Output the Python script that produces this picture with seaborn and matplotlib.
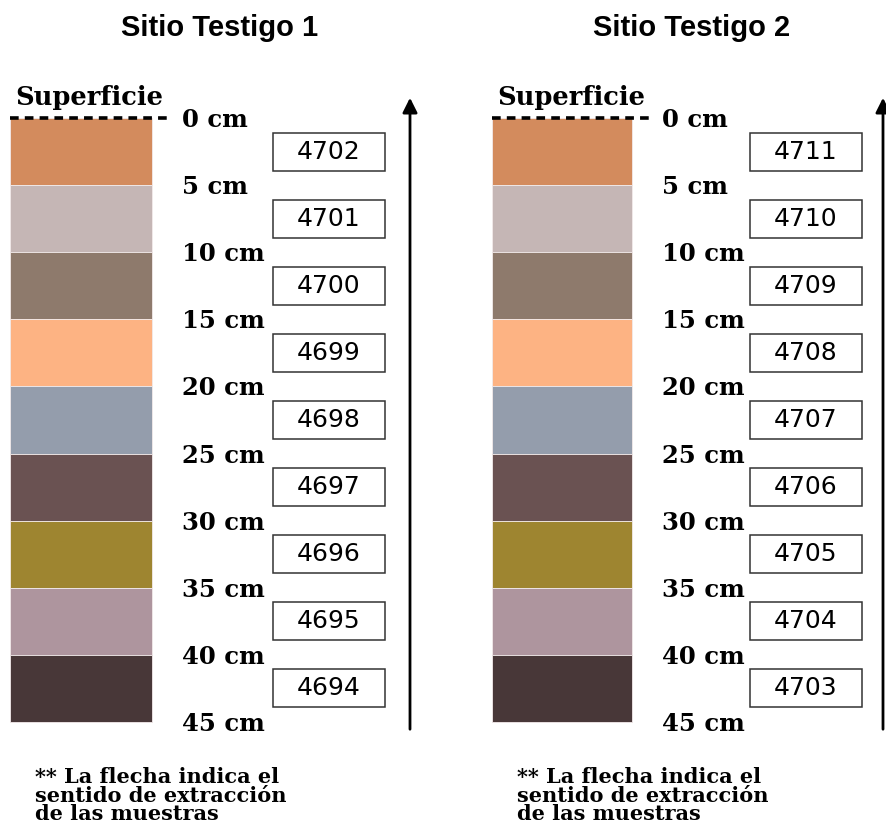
import matplotlib.pyplot as plt
import seaborn as sns
from matplotlib.patches import Rectangle

# Datos
SITES = ["Sitio Testigo 1", "Sitio Testigo 2"]
DEPTHS = [0, 5, 10, 15, 20, 25, 30, 35, 40, 45]          # cm
LAYER_COLORS = ["#D38B5D", "#C5B6B5", "#8E7A6C", "#FDB383", "#949DAC",
                "#6A5252", "#9E8530", "#AE959E", "#483738"]
SAMPLES_1 = [4702, 4701, 4700, 4699, 4698, 4697, 4696, 4695, 4694]
SAMPLES_2 = [4711, 4710, 4709, 4708, 4707, 4706, 4705, 4704, 4703]
SAMPLES = [SAMPLES_1, SAMPLES_2]
NOTE = "** La flecha indica el\nsentido de extracción\nde las muestras"

# Disposición (px en x, cm en y)
W, H, DPI = 887, 830, 100
PX_PER_CM = 604 / 45
TOP_PX = 118
PANELS = [  # left, width, column x, column w, label x, box x, arrow x
    dict(left=0, width=441, col=10, colw=142, lab=182, box=273, arrow=410, title=220),
    dict(left=482, width=405, col=10, colw=140, lab=180, box=268, arrow=401, title=210),
]
BOX_W, BOX_H = 112, 38 / PX_PER_CM

sns.set_style("white")
plt.rcParams["text.color"] = "black"
fig = plt.figure(figsize=(W / DPI, H / DPI), dpi=DPI)

ylim_top = -TOP_PX / PX_PER_CM
ylim_bot = (H - TOP_PX) / PX_PER_CM

for site, samples, p in zip(SITES, SAMPLES, PANELS):
    ax = fig.add_axes([p["left"] / W, 0, p["width"] / W, 1])
    ax.set_xlim(0, p["width"])
    ax.set_ylim(ylim_bot, ylim_top)
    ax.axis("off")

    tops = DEPTHS[:-1]
    ax.bar(p["col"] + p["colw"] / 2, [5] * len(tops), bottom=tops,
           width=p["colw"], color=LAYER_COLORS, edgecolor="#f2eaea",
           linewidth=0.6)

    # superficie
    ax.plot([p["col"], p["col"] + 160], [0, 0], color="black", lw=2.6,
            dashes=(2.4, 1.7))
    ax.text(p["col"] + 5, -1.5, "Superficie", family="DejaVu Serif",
            fontweight="bold", fontsize=18.5, va="center", ha="left")

    for d in DEPTHS:
        ax.text(p["lab"], d + 0.15, f"{d} cm", family="DejaVu Serif",
                fontweight="bold", fontsize=17.5, va="center", ha="left")

    for top, s in zip(tops, samples):
        mid = top + 2.5
        ax.add_patch(Rectangle((p["box"], mid - BOX_H / 2), BOX_W, BOX_H,
                               facecolor="white", edgecolor="#333333", lw=1.1))
        ax.text(p["box"] + BOX_W / 2, mid, str(s), family="DejaVu Sans",
                fontsize=18, va="center", ha="center")

    # flecha de extracción
    ax.annotate("", xy=(p["arrow"], (95 - TOP_PX) / PX_PER_CM),
                xytext=(p["arrow"], (732 - TOP_PX) / PX_PER_CM),
                arrowprops=dict(arrowstyle="-|>", color="black", lw=2,
                                mutation_scale=22))

    ax.text(p["col"] + 25, (767 - TOP_PX) / PX_PER_CM, NOTE,
            family="DejaVu Serif", fontweight="bold", fontsize=15,
            va="top", ha="left", linespacing=0.92)

    ax.text(p["title"], (28 - TOP_PX) / PX_PER_CM, site,
            family="Liberation Sans", fontweight="bold", fontsize=21,
            va="center", ha="center")

fig.savefig("out.png", dpi=DPI)
